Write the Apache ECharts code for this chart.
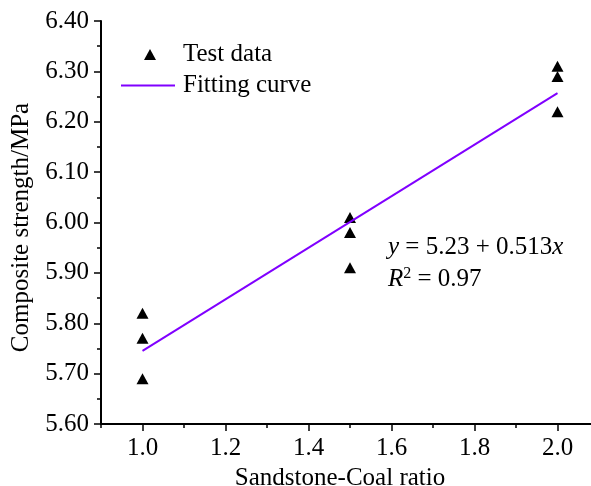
<!DOCTYPE html>
<html>
<head>
<meta charset="utf-8">
<script src="https://cdn.jsdelivr.net/npm/echarts@6/dist/echarts.min.js"></script>
<style>html,body{margin:0;padding:0;background:#fff}#c{width:591px;height:486px}</style>
</head>
<body>
<div id="c"></div>
<script>
// Data
var ratio = [1.0, 1.0, 1.0, 1.5, 1.5, 1.5, 2.0, 2.0, 2.0];
var strength = [5.82, 5.77, 5.69, 6.01, 5.98, 5.91, 6.31, 6.29, 6.22];
var fitX = [1.0, 2.0];
var fitY = [5.745, 6.257];
var xMajorTicks = [1.0, 1.2, 1.4, 1.6, 1.8, 2.0];
var equationText = '{i|y} = 5.23 + 0.513{i|x}';
var r2Text = '{i|R}{s|2} = 0.97';

var FONT = '"Liberation Serif", "Times New Roman", serif';
var FS = 25;
var chart = echarts.init(document.getElementById('c'));
var scatterData = ratio.map(function (r, i) { return [r, strength[i]]; });
var fitData = fitX.map(function (x, i) { return [x, fitY[i]]; });

chart.setOption({
  animation: false,
  backgroundColor: '#fff',
  textStyle: { fontFamily: FONT, color: '#000' },
  grid: { left: 101, top: 21, width: 498, height: 403, outerBoundsMode: 'none', containLabel: false },
  legend: [
    {
      data: ['Test data'], left: 139, top: 37, icon: 'triangle',
      itemWidth: 12, itemHeight: 11,
      textStyle: { fontFamily: FONT, fontSize: FS, color: '#000', padding: [0, 0, 0, 22] }
    },
    {
      data: ['Fitting curve'], left: 116, top: 68, icon: 'rect',
      itemWidth: 54, itemHeight: 2,
      textStyle: { fontFamily: FONT, fontSize: FS, color: '#000', padding: [0, 0, 0, 3] }
    }
  ],
  xAxis: [
    {
      type: 'value', min: 0.9, max: 2.1, interval: 0.1,
      axisLine: { show: true, lineStyle: { color: '#000', width: 2 } },
      axisTick: { show: true, length: 4, inside: false, lineStyle: { color: '#000', width: 1.5 } },
      axisLabel: { show: false },
      splitLine: { show: false }
    },
    {
      type: 'value', min: 0.9, max: 2.1, position: 'bottom',
      name: 'Sandstone-Coal ratio', nameLocation: 'middle', nameGap: 42,
      nameTextStyle: { fontFamily: FONT, fontSize: FS, color: '#000', padding: [0, 20, 0, 0] },
      axisLine: { show: false },
      axisTick: { show: true, length: 7, customValues: xMajorTicks, lineStyle: { color: '#000', width: 1.5 } },
      axisLabel: {
        show: true, customValues: xMajorTicks, margin: 12,
        fontFamily: FONT, fontSize: FS, color: '#000',
        formatter: function (v) { return Number(v).toFixed(1); }
      },
      splitLine: { show: false }
    }
  ],
  yAxis: {
    type: 'value', min: 5.6, max: 6.4, interval: 0.1,
    name: 'Composite strength/MPa', nameLocation: 'middle', nameGap: 66,
    nameTextStyle: { fontFamily: FONT, fontSize: FS, color: '#000', padding: [0, 10, 0, 0] },
    axisLine: { show: true, lineStyle: { color: '#000', width: 2 } },
    axisTick: { show: true, length: 7, lineStyle: { color: '#000', width: 1.5 } },
    minorTick: { show: true, splitNumber: 2, length: 4, lineStyle: { color: '#000', width: 1.5 } },
    axisLabel: {
      margin: 12, fontFamily: FONT, fontSize: FS, color: '#000',
      formatter: function (v) { return Number(v).toFixed(2); }
    },
    splitLine: { show: false }
  },
  series: [
    {
      name: 'Test data', type: 'scatter', xAxisIndex: 1,
      symbol: 'triangle', symbolSize: [12, 11],
      itemStyle: { color: '#000', opacity: 1 },
      data: scatterData
    },
    {
      name: 'Fitting curve', type: 'line', xAxisIndex: 1,
      symbol: 'none', showSymbol: false,
      lineStyle: { color: '#8000ff', width: 2 },
      itemStyle: { color: '#8000ff' },
      data: fitData
    }
  ],
  graphic: [
    {
      type: 'text', left: 388, top: 235,
      style: {
        text: equationText, font: FS + 'px ' + FONT, fill: '#000',
        rich: { i: { fontStyle: 'italic', fontFamily: FONT, fontSize: FS } }
      }
    },
    {
      type: 'text', left: 388, top: 266,
      style: {
        text: r2Text, font: FS + 'px ' + FONT, fill: '#000',
        rich: {
          i: { fontStyle: 'italic', fontFamily: FONT, fontSize: FS },
          s: { fontFamily: FONT, fontSize: 16, verticalAlign: 'top', padding: [0, 0, 10, 0] }
        }
      }
    }
  ]
});
</script>
</body>
</html>
